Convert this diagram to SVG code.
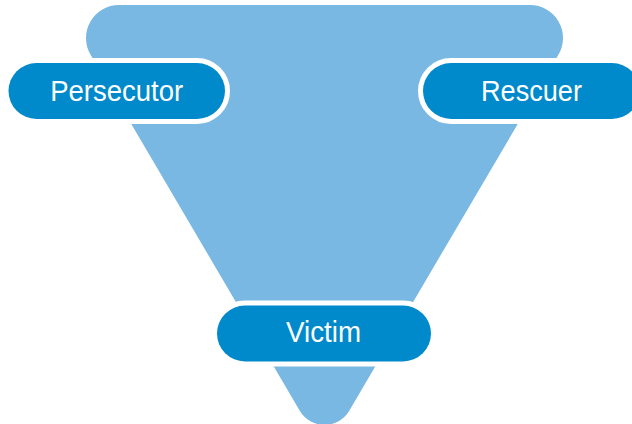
<svg xmlns="http://www.w3.org/2000/svg" width="632" height="424" viewBox="0 0 632 424">
  <style>
    .pill { fill: #0089CB; stroke: #FFFFFF; stroke-width: 10; paint-order: stroke; }
    .label { fill: #FFFFFF; font-family: "Liberation Sans", Arial, Helvetica, sans-serif; font-size: 29px; text-anchor: middle; }
  </style>
  <rect x="0" y="0" width="632" height="424" fill="#FFFFFF"/>
  <g id="triangle">
    <path d="M 119,5 L 530,5 A 33 33 0 0 1 558.4,54.8 L 349.1,410.9 A 28.6 28.6 0 0 1 299.9,410.9 L 90.6,54.8 A 33 33 0 0 1 119,5 Z" fill="#79B8E2"/>
  </g>
  <g id="connectors"></g>
  <g id="persecutor">
    <rect class="pill" x="8.5" y="63" width="216.5" height="56" rx="28" ry="28"/>
    <text class="label" x="116.7" y="101" textLength="133" lengthAdjust="spacingAndGlyphs">Persecutor</text>
  </g>
  <g id="rescuer">
    <rect class="pill" x="423" y="63" width="217" height="56" rx="28" ry="28"/>
    <text class="label" x="531.5" y="101" textLength="101" lengthAdjust="spacingAndGlyphs">Rescuer</text>
  </g>
  <g id="victim">
    <rect class="pill" x="217" y="305.5" width="214" height="56" rx="28" ry="28"/>
    <text class="label" x="323.5" y="342" textLength="75" lengthAdjust="spacingAndGlyphs">Victim</text>
  </g>
</svg>
